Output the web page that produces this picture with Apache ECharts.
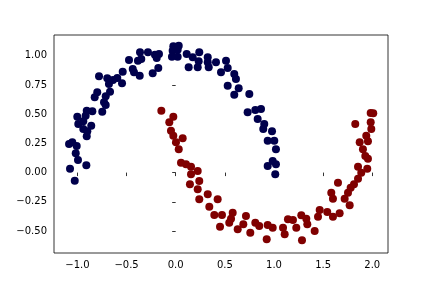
<!DOCTYPE html>
<html>
<head>
<meta charset="utf-8">
<script src="https://cdn.jsdelivr.net/npm/echarts@6/dist/echarts.min.js"></script>
<style>html,body{margin:0;padding:0;background:#fff;}#c{width:432px;height:288px;}</style>
</head>
<body>
<div id="c"></div>
<script>
// Class 0 (upper moon, dark blue)
const class0X = [-0.363,-0.282,-0.211,-0.170,-0.193,-0.350,-0.384,-0.475,-0.177,-0.234,-0.366,-0.437,-0.424,-0.539,-0.594,-0.638,-0.696,-0.679,-0.546,-0.780,-0.798,-0.824,-0.668,-0.712,-0.729,-0.712,-0.747,-0.848,-0.905,-0.916,-1.001,-0.991,-0.940,-0.859,-0.940,-0.899,-0.905,-1.052,-1.085,-1.017,-0.994,-0.909,-1.075,-1.027,-1.007,
  -0.024,0.031,-0.031,0.020,-0.038,0.020,0.112,0.173,0.240,0.326,0.234,0.224,0.132,0.326,0.336,0.410,0.512,0.529,0.461,0.596,0.613,0.529,0.641,0.596,0.749,0.732,0.810,0.868,0.834,0.901,0.891,0.980,0.936,1.003,1.020,0.936,0.987,1.020,1.013];
const class0Y = [1.029,1.029,1.009,1.015,0.980,0.972,0.957,0.963,0.895,0.850,0.829,0.886,0.858,0.863,0.809,0.792,0.807,0.758,0.764,0.824,0.687,0.644,0.692,0.653,0.601,0.578,0.521,0.524,0.530,0.487,0.478,0.416,0.439,0.401,0.373,0.353,0.311,0.259,0.245,0.165,0.108,0.062,0.033,-0.069,0.228,
  1.080,1.086,1.043,1.051,0.991,0.991,1.015,0.986,1.029,0.986,0.952,0.901,0.901,0.944,0.901,0.944,0.957,0.895,0.858,0.843,0.801,0.743,0.721,0.666,0.672,0.516,0.536,0.544,0.459,0.416,0.373,0.353,0.273,0.273,0.199,0.056,0.099,0.071,-0.015];
// Class 1 (lower moon, dark red)
const class1X = [-0.146,-0.024,-0.065,-0.048,-0.024,0.003,0.071,0.031,0.054,0.105,0.156,0.224,0.156,0.145,0.240,0.224,0.240,0.326,0.427,0.342,0.393,0.471,0.580,0.563,0.451,0.545,0.631,0.715,0.688,0.759,0.810,0.850,0.936,0.987,0.926,
  1.905,1.929,1.956,1.855,1.949,1.888,1.855,1.651,1.814,1.780,1.753,1.583,1.600,1.719,1.770,1.465,1.542,1.448,1.600,1.668,1.278,1.329,1.339,1.142,1.193,1.227,1.092,1.109,1.414,1.285,
  1.984,1.827,1.984,1.990,1.939,1.872,1.956,2.010];
const class1Y = [0.530,0.478,0.430,0.358,0.316,0.259,0.293,0.199,0.085,0.071,0.050,0.014,-0.015,-0.100,-0.072,-0.143,-0.228,-0.186,-0.228,-0.292,-0.363,-0.363,-0.343,-0.394,-0.463,-0.429,-0.485,-0.371,-0.442,-0.514,-0.429,-0.457,-0.448,-0.471,-0.571,
  0.199,0.142,0.119,0.050,0.033,-0.001,-0.052,-0.086,-0.100,-0.129,-0.172,-0.172,-0.223,-0.223,-0.280,-0.320,-0.337,-0.377,-0.377,-0.348,-0.365,-0.394,-0.442,-0.399,-0.405,-0.471,-0.471,-0.528,-0.500,-0.579,
  0.510,0.416,0.430,0.373,0.316,0.259,0.268,0.507];
const xTicks = [-1.0,-0.5,0.0,0.5,1.0,1.5,2.0];
const yTicks = [-0.50,-0.25,0.00,0.25,0.50,0.75,1.00];

const pairs = (xs, ys) => xs.map((x, i) => [x, ys[i]]);
const fmt = d => v => (v < 0 ? '\u2212' : '') + Math.abs(v).toFixed(d);

const chart = echarts.init(document.getElementById('c'), null, {renderer: 'canvas'});
const axisCommon = {
  type: 'value',
  splitLine: {show: false},
  axisLine: {show: false},
  axisTick: {show: true, length: 3.5, lineStyle: {color: '#000', width: 0.8}},
  axisLabel: {color: '#000', fontFamily: 'DejaVu Sans', fontSize: 10, margin: 7}
};
chart.setOption({
  animation: false,
  backgroundColor: '#fff',
  grid: {left: 54, right: 44, top: 35, bottom: 35, show: true, borderColor: '#000', borderWidth: 0.8, backgroundColor: 'transparent'},
  xAxis: Object.assign({}, axisCommon, {
    min: -1.238, max: 2.16,
    axisTick: Object.assign({}, axisCommon.axisTick, {customValues: xTicks}),
    axisLabel: Object.assign({}, axisCommon.axisLabel, {customValues: xTicks, formatter: fmt(1)})
  }),
  yAxis: Object.assign({}, axisCommon, {
    min: -0.688, max: 1.177,
    axisTick: Object.assign({}, axisCommon.axisTick, {customValues: yTicks}),
    axisLabel: Object.assign({}, axisCommon.axisLabel, {customValues: yTicks, formatter: fmt(2)})
  }),
  series: [
    {type: 'scatter', data: pairs(class0X, class0Y), symbolSize: 8, itemStyle: {color: '#00004c', opacity: 1}},
    {type: 'scatter', data: pairs(class1X, class1Y), symbolSize: 8, itemStyle: {color: '#800000', opacity: 1}}
  ]
});
</script>
</body>
</html>
